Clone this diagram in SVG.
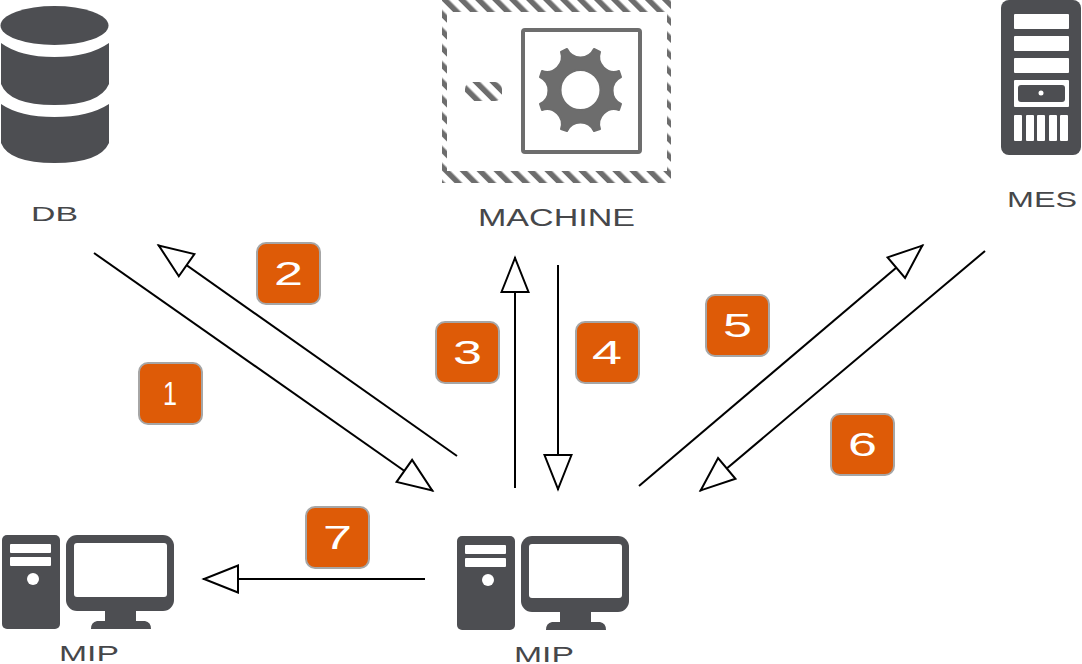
<svg xmlns="http://www.w3.org/2000/svg" width="1082" height="664" viewBox="0 0 1082 664">
<style>
.ic{fill:#4d4e52}
.wh{fill:#fff}
.lb{font-family:"Liberation Sans",Arial,sans-serif;fill:#46474a;text-anchor:start}
.bd{fill:#de5b07;stroke:#a6a6a6;stroke-width:2}
.dg{font-family:"Liberation Sans",Arial,sans-serif;font-size:33px;fill:#fff;text-anchor:start}
.cn{fill:none;stroke:#000;stroke-width:2;marker-end:url(#ah)}
</style>
<defs>
<marker id="ah" markerUnits="userSpaceOnUse" markerWidth="40" markerHeight="32" refX="37" refY="15" orient="auto" viewBox="0 0 40 30">
<path d="M2 1.500L36 15L2 28.500Z" fill="#fff" stroke="#000" stroke-width="2"/>
</marker>
<pattern id="hatch" patternUnits="userSpaceOnUse" width="12" height="12" patternTransform="rotate(-45 0 0) ">
<rect width="12" height="12" fill="#fff"/>
<rect width="5.500" height="12" fill="#6d6d6d"/>
</pattern>
<g id="pc">
<rect class="ic" x="457" y="536" width="58" height="94" rx="5"/>
<rect class="wh" x="465" y="545" width="41" height="9" rx="1"/>
<rect class="wh" x="465" y="558" width="41" height="9" rx="1"/>
<circle class="wh" cx="488" cy="580" r="6"/>
<rect class="ic" x="521" y="536" width="108" height="76" rx="11"/>
<rect class="wh" x="529" y="544" width="93" height="54" rx="3"/>
<path class="ic" d="M560 610H591V622H600Q606 623 606 630H546Q546 623 552 622H560Z"/>
</g>
</defs>
<g id="connectors">
<line class="cn" x1="94" y1="253" x2="433" y2="491"/>
<line class="cn" x1="457" y1="456" x2="158" y2="245"/>
<line class="cn" x1="515" y1="488" x2="515" y2="257"/>
<line class="cn" x1="558" y1="265" x2="558" y2="490"/>
<line class="cn" x1="639" y1="486" x2="923" y2="245"/>
<line class="cn" x1="985" y1="251" x2="700" y2="491"/>
<line class="cn" x1="425" y1="579" x2="203" y2="579"/>
</g>
<g id="db">
<ellipse class="ic" cx="54.500" cy="25.500" rx="54" ry="19.500"/>
<path class="ic" d="M1 43Q20 57 54.500 57Q89 57 109 43V84Q100 105 54.500 105Q9 105 1 84Z"/>
<path class="ic" d="M1 104Q20 117 54.500 117Q89 117 109 104V143Q100 163 54.500 163Q9 163 1 143Z"/>
<text class="lb" x="31" y="221" font-size="21" textLength="47" lengthAdjust="spacingAndGlyphs">DB</text>
</g>
<g id="machine">
<path fill="url(#hatch)" fill-rule="evenodd" d="M442 0H671V183H442ZM447 12V171H667V12Z"/>
<rect x="465" y="82" width="37" height="19" rx="7" fill="url(#hatch)"/>
<rect x="523" y="30" width="117" height="122" rx="2" fill="#fff" stroke="#6d6d6d" stroke-width="4"/>
<path fill="#6d6d6d" stroke="#6d6d6d" stroke-width="2" stroke-linejoin="round" fill-rule="evenodd" d="M594 49L600 52A15 15 0 0 0 619 71L621 77A15 15 0 0 0 621 104L619 110A15 15 0 0 0 600 129L594 131A15 15 0 0 0 567 131L561 129A15 15 0 0 0 542 110L540 104A15 15 0 0 0 540 77L542 71A15 15 0 0 0 561 52L567 49A15 15 0 0 0 594 49ZM580.500 70A20 20 0 1 0 580.500 110A20 20 0 1 0 580.500 70Z"/>
<text class="lb" x="478" y="226" font-size="23" textLength="157" lengthAdjust="spacingAndGlyphs">MACHINE</text>
</g>
<g id="mes">
<rect class="ic" x="1001" y="0" width="80" height="155" rx="8"/>
<rect class="wh" x="1014" y="14" width="55" height="15" rx="1"/>
<rect class="wh" x="1014" y="36" width="55" height="15" rx="1"/>
<rect class="wh" x="1014" y="58" width="55" height="15" rx="1"/>
<rect class="wh" x="1014" y="80" width="55" height="27" rx="1"/>
<rect class="ic" x="1018" y="85" width="47" height="17" rx="3"/>
<circle class="wh" cx="1041" cy="93" r="2.500"/>
<rect class="wh" x="1014" y="115" width="8" height="26" rx="1"/>
<rect class="wh" x="1026" y="115" width="8" height="26" rx="1"/>
<rect class="wh" x="1037" y="115" width="8" height="26" rx="1"/>
<rect class="wh" x="1049" y="115" width="8" height="26" rx="1"/>
<rect class="wh" x="1060" y="115" width="8" height="26" rx="1"/>
<text class="lb" x="1007" y="207" font-size="22" textLength="70" lengthAdjust="spacingAndGlyphs">MES</text>
</g>
<g id="mip-left">
<use href="#pc" x="-455" y="-1"/>
<text class="lb" x="59" y="661" font-size="22" textLength="60" lengthAdjust="spacingAndGlyphs">MIP</text>
</g>
<g id="mip-right">
<use href="#pc"/>
<text class="lb" x="514" y="662" font-size="22" textLength="60" lengthAdjust="spacingAndGlyphs">MIP</text>
</g>
<g id="badge-1"><rect class="bd" x="139" y="363" width="63" height="61" rx="9"/><text class="dg" x="163" y="405" textLength="14" lengthAdjust="spacingAndGlyphs">1</text></g>
<g id="badge-2"><rect class="bd" x="257" y="243" width="63" height="61" rx="9"/><text class="dg" x="274" y="285" textLength="29" lengthAdjust="spacingAndGlyphs">2</text></g>
<g id="badge-3"><rect class="bd" x="436" y="322" width="63" height="61" rx="9"/><text class="dg" x="453" y="364" textLength="29" lengthAdjust="spacingAndGlyphs">3</text></g>
<g id="badge-4"><rect class="bd" x="576" y="322" width="63" height="61" rx="9"/><text class="dg" x="592" y="364" textLength="30" lengthAdjust="spacingAndGlyphs">4</text></g>
<g id="badge-5"><rect class="bd" x="706" y="295" width="63" height="61" rx="9"/><text class="dg" x="723" y="337" textLength="29" lengthAdjust="spacingAndGlyphs">5</text></g>
<g id="badge-6"><rect class="bd" x="831" y="414" width="63" height="61" rx="9"/><text class="dg" x="848" y="456" textLength="29" lengthAdjust="spacingAndGlyphs">6</text></g>
<g id="badge-7"><rect class="bd" x="306" y="507" width="63" height="61" rx="9"/><text class="dg" x="323" y="549" textLength="29" lengthAdjust="spacingAndGlyphs">7</text></g>
</svg>
